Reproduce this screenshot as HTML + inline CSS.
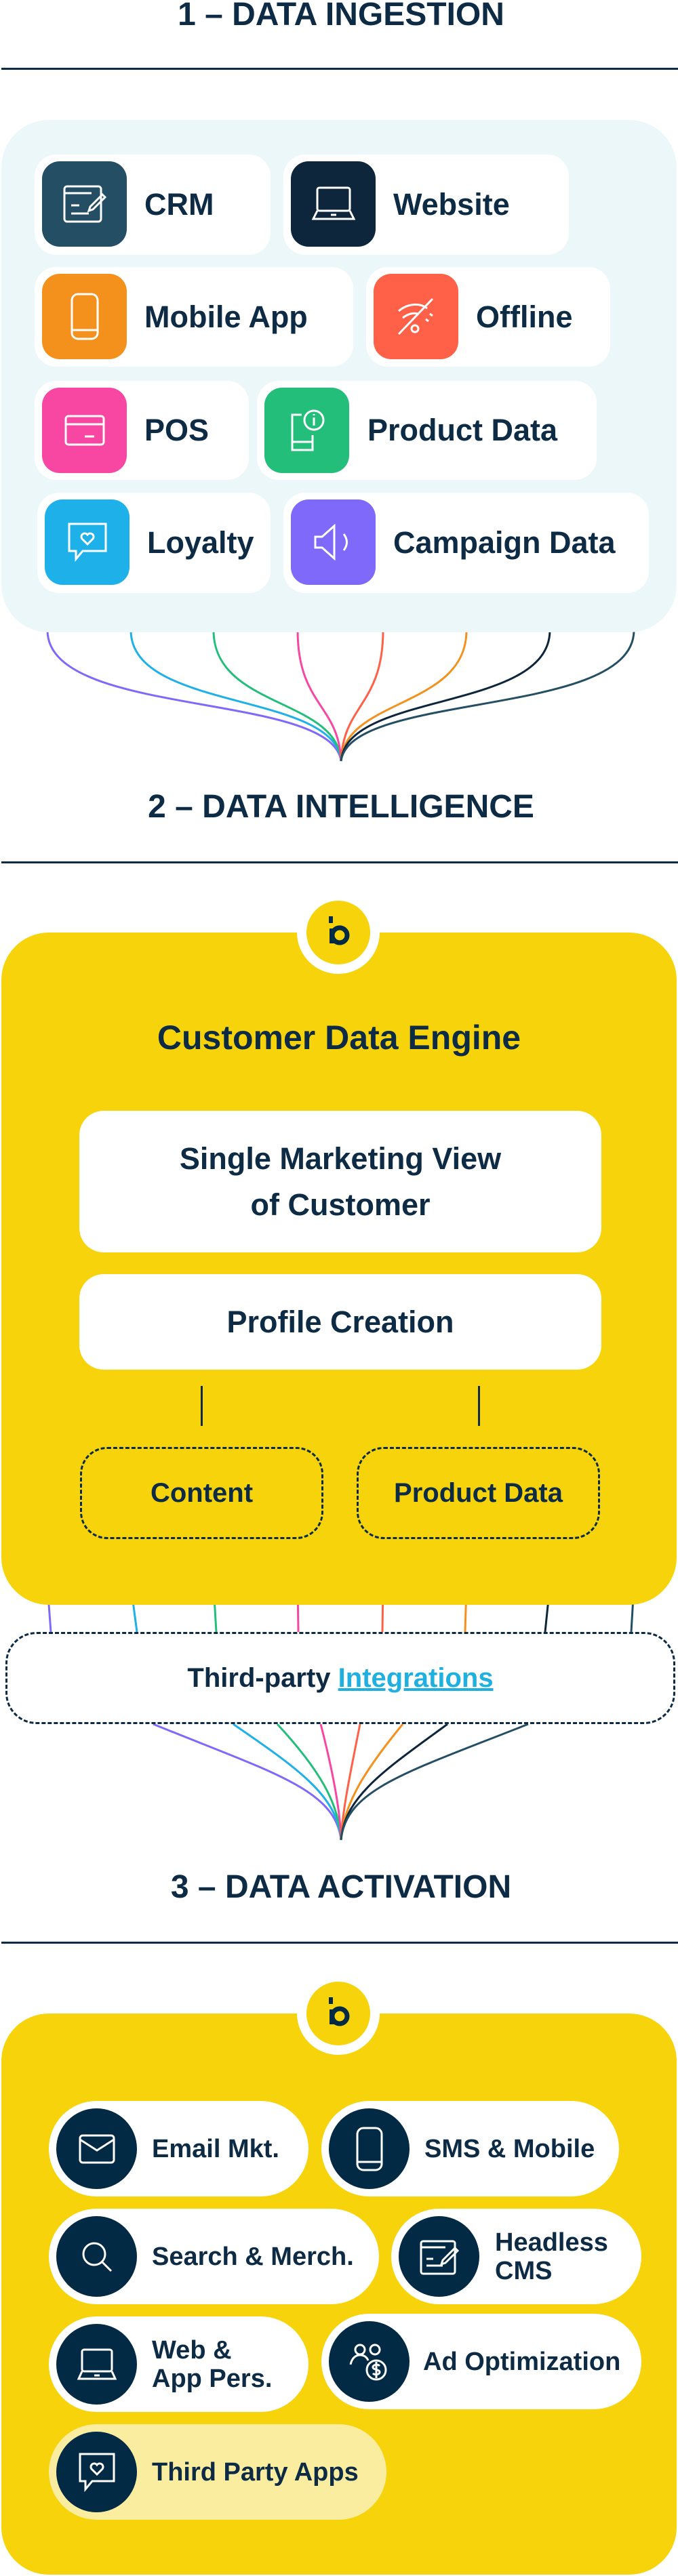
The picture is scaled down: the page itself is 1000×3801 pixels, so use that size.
<!DOCTYPE html>
<html><head><meta charset="utf-8"><style>
*{margin:0;padding:0;box-sizing:border-box}
body{width:1000px;height:3801px;background:#fff;position:relative;overflow:hidden;font-family:"Liberation Sans",sans-serif;color:#0d2b45}
.a{position:absolute}
.title{position:absolute;left:0;width:1006px;text-align:center;font-weight:700;font-size:48px;line-height:48px;color:#0d2b45}
.rule{position:absolute;left:2px;width:998px;height:3px;background:#0d2b45}
.card{position:absolute;background:#fff;border-radius:32px;font-weight:700;font-size:45px;display:flex;align-items:center;padding-left:162px}
.ic{position:absolute;left:11px;top:10px;width:125px;height:126px;border-radius:26px;display:flex;align-items:center;justify-content:center}
.box{position:absolute;background:#fff;border-radius:36px;font-weight:700;font-size:45px;text-align:center;display:flex;align-items:center;justify-content:center;line-height:68px}
.dash{position:absolute;border:3px dashed #0d2b45;border-radius:40px;display:flex;align-items:center;justify-content:center;font-weight:700;font-size:40px}
.pill{position:absolute;background:#fff;border-radius:80px;height:141px;display:flex;align-items:center;padding-left:152px;font-weight:700;font-size:38px;line-height:42px}
.cir{position:absolute;left:11px;top:11px;width:119px;height:119px;border-radius:50%;background:#032a45;display:flex;align-items:center;justify-content:center}
</style></head><body>

<div class="title" style="top:-2px">1 – DATA INGESTION</div>
<div class="rule" style="top:100px"></div>

<svg class="a" style="left:0;top:0" width="1000" height="3801">
<g fill="none" stroke-width="3">
<path d="M70 930 C70 1060 490 1020 503 1123" stroke="#7e69fb"/>
<path d="M193 930 C193 1050 495 1020 503 1123" stroke="#1eb0e8"/>
<path d="M315 930 C315 1045 498 1030 503 1123" stroke="#22be7a"/>
<path d="M439 930 C439 1040 500 1040 503 1123" stroke="#f847a2"/>
<path d="M565 930 C565 1040 506 1040 503 1123" stroke="#fe6148"/>
<path d="M688 930 C688 1045 508 1030 503 1123" stroke="#f4911c"/>
<path d="M811 930 C811 1050 511 1020 503 1123" stroke="#0d263b"/>
<path d="M935 930 C935 1060 516 1020 503 1123" stroke="#234e63"/>
<path d="M70 2340 L75 2408" stroke="#7e69fb"/>
<path d="M193 2340 L202 2408" stroke="#1eb0e8"/>
<path d="M315 2340 L319 2408" stroke="#22be7a"/>
<path d="M439 2340 L440 2408" stroke="#f847a2"/>
<path d="M565 2340 L564 2408" stroke="#fe6148"/>
<path d="M688 2340 L686 2408" stroke="#f4911c"/>
<path d="M811 2340 L804 2408" stroke="#0d263b"/>
<path d="M935 2340 L931 2408" stroke="#234e63"/>
<path d="M226 2544 C400 2615 495 2640 503 2715" stroke="#7e69fb"/>
<path d="M344 2544 C440 2610 498 2650 503 2715" stroke="#1eb0e8"/>
<path d="M409 2544 C470 2610 500 2660 503 2715" stroke="#22be7a"/>
<path d="M473 2544 C490 2610 502 2670 503 2715" stroke="#f847a2"/>
<path d="M531 2544 C518 2610 505 2670 503 2715" stroke="#fe6148"/>
<path d="M594 2544 C540 2610 507 2660 503 2715" stroke="#f4911c"/>
<path d="M660 2544 C570 2610 508 2650 503 2715" stroke="#0d263b"/>
<path d="M779 2544 C600 2615 510 2640 503 2715" stroke="#234e63"/>
</g>
</svg>

<div class="a" style="left:2px;top:177px;width:996px;height:756px;background:#ecf7f9;border-radius:70px"></div>

<div class="card" style="left:51px;top:228px;width:348px;height:148px"><div class="ic" style="background:#234e63"><svg width="64" height="60" viewBox="0 0 64 60" fill="none" stroke="#fff" stroke-width="3"><rect x="2" y="4" width="54" height="52" rx="4"/><path d="M2 14h40M12 32h12M12 44h26M40 34l18-18 4 4-18 18-6 2z"/></svg></div>CRM</div>
<div class="card" style="left:418px;top:228px;width:421px;height:148px"><div class="ic" style="background:#0d263b"><svg width="64" height="56" viewBox="0 0 64 56" fill="none" stroke="#fff" stroke-width="3"><rect x="8" y="4" width="48" height="34" rx="3"/><path d="M8 38L2 50h60L56 38M28 44h8"/></svg></div>Website</div>
<div class="card" style="left:51px;top:394px;width:470px;height:147px"><div class="ic" style="background:#f4911c"><svg width="44" height="72" viewBox="0 0 44 72" fill="none" stroke="#fff" stroke-width="3"><rect x="3" y="3" width="38" height="66" rx="9"/><path d="M3 56h38"/></svg></div>Mobile App</div>
<div class="card" style="left:540px;top:394px;width:360px;height:147px"><div class="ic" style="background:#fe6148"><svg width="60" height="60" viewBox="0 0 60 60" fill="none" stroke="#fff" stroke-width="3"><path d="M4 56L54 4M4 22c14-12 32-12 42-4M10 32c8-6 16-8 22-6M50 26l4 3M44 34l4 3"/><circle cx="28" cy="48" r="5"/></svg></div>Offline</div>
<div class="card" style="left:51px;top:562px;width:316px;height:146px"><div class="ic" style="background:#f847a2"><svg width="60" height="46" viewBox="0 0 60 46" fill="none" stroke="#fff" stroke-width="3"><rect x="2" y="2" width="56" height="42" rx="4"/><path d="M2 14h56M30 32h14"/></svg></div>POS</div>
<div class="card" style="left:379px;top:562px;width:501px;height:146px;padding-left:163px"><div class="ic" style="background:#22be7a"><svg width="56" height="66" viewBox="0 0 56 66" fill="none" stroke="#fff" stroke-width="3"><path d="M20 10H6v52h30V40M6 50h30"/><circle cx="38" cy="18" r="14"/><path d="M38 14v12M38 9v2"/></svg></div>Product Data</div>
<div class="card" style="left:55px;top:727px;width:344px;height:148px"><div class="ic" style="background:#1eb0e8"><svg width="58" height="58" viewBox="0 0 58 58" fill="none" stroke="#fff" stroke-width="3"><path d="M2 2h54v40H22L12 54V42H2z"/><path d="M29 32l-8-8a5 5 0 018-6 5 5 0 018 6z"/></svg></div>Loyalty</div>
<div class="card" style="left:418px;top:727px;width:539px;height:148px"><div class="ic" style="background:#7e69fb"><svg width="62" height="56" viewBox="0 0 62 56" fill="none" stroke="#fff" stroke-width="3"><path d="M4 20h10L32 4v48L14 36H4z"/><path d="M46 16c6 8 6 16 0 24"/></svg></div>Campaign Data</div>

<div class="title" style="top:1167px">2 – DATA INTELLIGENCE</div>
<div class="rule" style="top:1271px"></div>

<div class="a" style="left:2px;top:1376px;width:996px;height:992px;background:#f6d30a;border-radius:70px"></div>
<div class="a" style="left:438px;top:1315px;width:122px;height:122px;border-radius:50%;background:#fff"></div>
<div class="a" style="left:452px;top:1329px;width:94px;height:94px;border-radius:50%;background:#f6d30a"></div>
<svg class="a" style="left:482px;top:1352px" width="36" height="44" viewBox="0 0 36 44"><path d="M6 0v10" stroke="#032a45" stroke-width="6"/><circle cx="19" cy="28" r="11" fill="none" stroke="#032a45" stroke-width="7"/><path d="M4 18h7v22H4z" fill="#032a45"/></svg>

<div class="a" style="left:0;width:1000px;top:1506px;text-align:center;font-weight:700;font-size:50px;line-height:50px">Customer Data Engine</div>
<div class="box" style="left:117px;top:1639px;width:770px;height:209px">Single Marketing View<br>of Customer</div>
<div class="box" style="left:117px;top:1880px;width:770px;height:141px">Profile Creation</div>
<div class="a" style="left:296px;top:2045px;width:3px;height:59px;background:#0d2b45"></div>
<div class="a" style="left:705px;top:2045px;width:3px;height:59px;background:#0d2b45"></div>
<div class="dash" style="left:118px;top:2135px;width:359px;height:136px">Content</div>
<div class="dash" style="left:526px;top:2135px;width:359px;height:136px">Product Data</div>

<div class="dash" style="left:8px;top:2408px;width:988px;height:136px;border-radius:46px;background:#fff">Third-party&nbsp;<span style="color:#1fb0e0;text-decoration:underline">Integrations</span></div>

<div class="title" style="top:2761px">3 – DATA ACTIVATION</div>
<div class="rule" style="top:2865px"></div>

<div class="a" style="left:2px;top:2971px;width:996px;height:828px;background:#f6d30a;border-radius:70px"></div>
<div class="a" style="left:438px;top:2910px;width:122px;height:122px;border-radius:50%;background:#fff"></div>
<div class="a" style="left:452px;top:2924px;width:94px;height:94px;border-radius:50%;background:#f6d30a"></div>
<svg class="a" style="left:482px;top:2947px" width="36" height="44" viewBox="0 0 36 44"><path d="M6 0v10" stroke="#032a45" stroke-width="6"/><circle cx="19" cy="28" r="11" fill="none" stroke="#032a45" stroke-width="7"/><path d="M4 18h7v22H4z" fill="#032a45"/></svg>

<div class="pill" style="left:72px;top:3100px;width:383px"><div class="cir"><svg width="54" height="44" viewBox="0 0 54 44" fill="none" stroke="#fff" stroke-width="3"><rect x="2" y="2" width="50" height="40" rx="4"/><path d="M2 8l25 16L52 8"/></svg></div>Email Mkt.</div>
<div class="pill" style="left:474px;top:3100px;width:439px"><div class="cir"><svg width="40" height="66" viewBox="0 0 40 66" fill="none" stroke="#fff" stroke-width="3"><rect x="2" y="2" width="36" height="62" rx="9"/><path d="M2 52h36"/></svg></div>SMS &amp; Mobile</div>
<div class="pill" style="left:72px;top:3259px;width:487px"><div class="cir"><svg width="48" height="48" viewBox="0 0 48 48" fill="none" stroke="#fff" stroke-width="3"><circle cx="20" cy="20" r="16"/><path d="M31 31l14 14"/></svg></div>Search &amp; Merch.</div>
<div class="pill" style="left:577px;top:3259px;width:369px;padding-left:153px"><div class="cir"><svg width="58" height="54" viewBox="0 0 58 54" fill="none" stroke="#fff" stroke-width="3"><rect x="2" y="4" width="50" height="48" rx="3"/><path d="M2 13h36M10 30h10M10 40h24M34 32l18-18 4 4-18 18-6 2z"/></svg></div>Headless<br>CMS</div>
<div class="pill" style="left:72px;top:3418px;width:383px"><div class="cir"><svg width="58" height="50" viewBox="0 0 58 50" fill="none" stroke="#fff" stroke-width="3"><rect x="7" y="3" width="44" height="32" rx="3"/><path d="M7 35L2 46h54l-5-11M25 41h8"/></svg></div>Web &amp;<br>App Pers.</div>
<div class="pill" style="left:474px;top:3414px;width:472px;padding-left:150px"><div class="cir"><svg width="60" height="60" viewBox="0 0 60 60" fill="none" stroke="#fff" stroke-width="3"><circle cx="16" cy="12" r="7"/><circle cx="38" cy="12" r="7"/><path d="M2 34c2-10 8-14 14-14s10 3 12 8"/><circle cx="40" cy="42" r="14"/><path d="M45 36c-3-3-10-2-10 2s10 3 10 7-7 5-10 2M40 30v24"/></svg></div>Ad Optimization</div>
<div class="pill" style="left:72px;top:3577px;width:498px;background:#fbeda0"><div class="cir"><svg width="54" height="58" viewBox="0 0 54 58" fill="none" stroke="#fff" stroke-width="3"><path d="M2 2h50v40H20L10 54V42H2z"/><path d="M27 32l-8-8a5 5 0 018-6 5 5 0 018 6z"/></svg></div>Third Party Apps</div>

</body></html>
